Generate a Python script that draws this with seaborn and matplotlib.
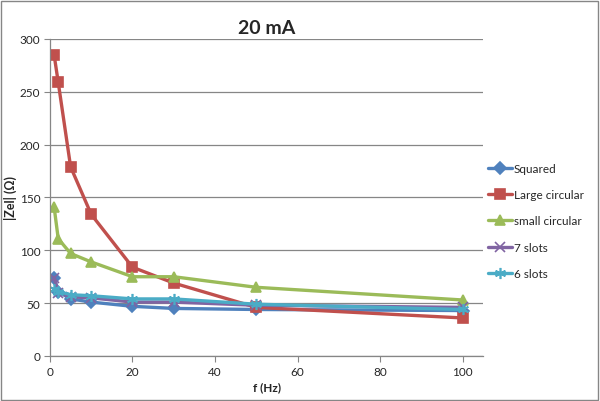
import numpy as np
import matplotlib
matplotlib.use("Agg")
import matplotlib.pyplot as plt
import seaborn as sns
from matplotlib.patches import Rectangle

# data
freq = [1, 2, 5, 10, 20, 30, 50, 100]
squared = [74, 61, 54, 51, 47, 45, 44, 43]
large_circular = [285, 259, 179, 134, 84, 69, 46, 36]
small_circular = [141, 111, 97, 89, 75, 75, 65, 53]
slots7 = [74, 60, 56, 55, 51, 51, 48, 46]
slots6 = [63, 61, 58, 57, 54, 54, 49, 44]

series = [("Squared", squared, "#4F81BD", "D", 6),
          ("Large circular", large_circular, "#C0504D", "s", 7),
          ("small circular", small_circular, "#9BBB59", "^", 7),
          ("7 slots", slots7, "#8064A2", "x", 7),
          ("6 slots", slots6, "#4BACC6", (6, 2, 0), 8)]

sns.set_style("white")
plt.rcParams['font.family'] = ['Lato', 'DejaVu Sans']

fig = plt.figure(figsize=(6, 4.02), dpi=100)
ax = fig.add_axes([0.0833, 0.112, 0.722, 0.7885])

for name, vals, col, mk, ms in series:
    sns.lineplot(x=freq, y=vals, ax=ax, color=col, marker=mk, markersize=ms,
                 markeredgecolor=col, markeredgewidth=1.2, linewidth=2.4, label=name)

ax.set_xlim(0, 105)
ax.set_ylim(0, 300)
ax.set_xticks([0, 20, 40, 60, 80, 100])
ax.set_yticks(range(0, 301, 50))
ax.yaxis.grid(True, color='#868686', linewidth=0.9)
ax.set_axisbelow(True)
for s in ['top', 'right']:
    ax.spines[s].set_visible(False)
for s in ['left', 'bottom']:
    ax.spines[s].set_color('#868686')
    ax.spines[s].set_linewidth(0.9)
ax.tick_params(axis='both', direction='out', length=4, color='#868686',
               labelsize=8.5, pad=3, left=True, bottom=True)

ax.set_title("20 mA", fontsize=14, fontweight='bold', pad=4)
ax.set_xlabel("f (Hz)", fontsize=8.5, fontweight='bold', labelpad=3)
ax.set_ylabel("|Zel| (Ω)", fontsize=9, fontweight='bold')
ax.yaxis.set_label_coords(-0.075, 0.5)

ax.legend(loc='center left', bbox_to_anchor=(0.995, 0.426), frameon=False,
          fontsize=8.5, handlelength=2.0, labelspacing=1.3, handletextpad=0.2,
          borderaxespad=0.2)

fig.patches.append(Rectangle((0.002, 0.003), 0.995, 0.993, transform=fig.transFigure,
                             fill=False, edgecolor='#868686', linewidth=1))

fig.savefig("out.png", dpi=100)
